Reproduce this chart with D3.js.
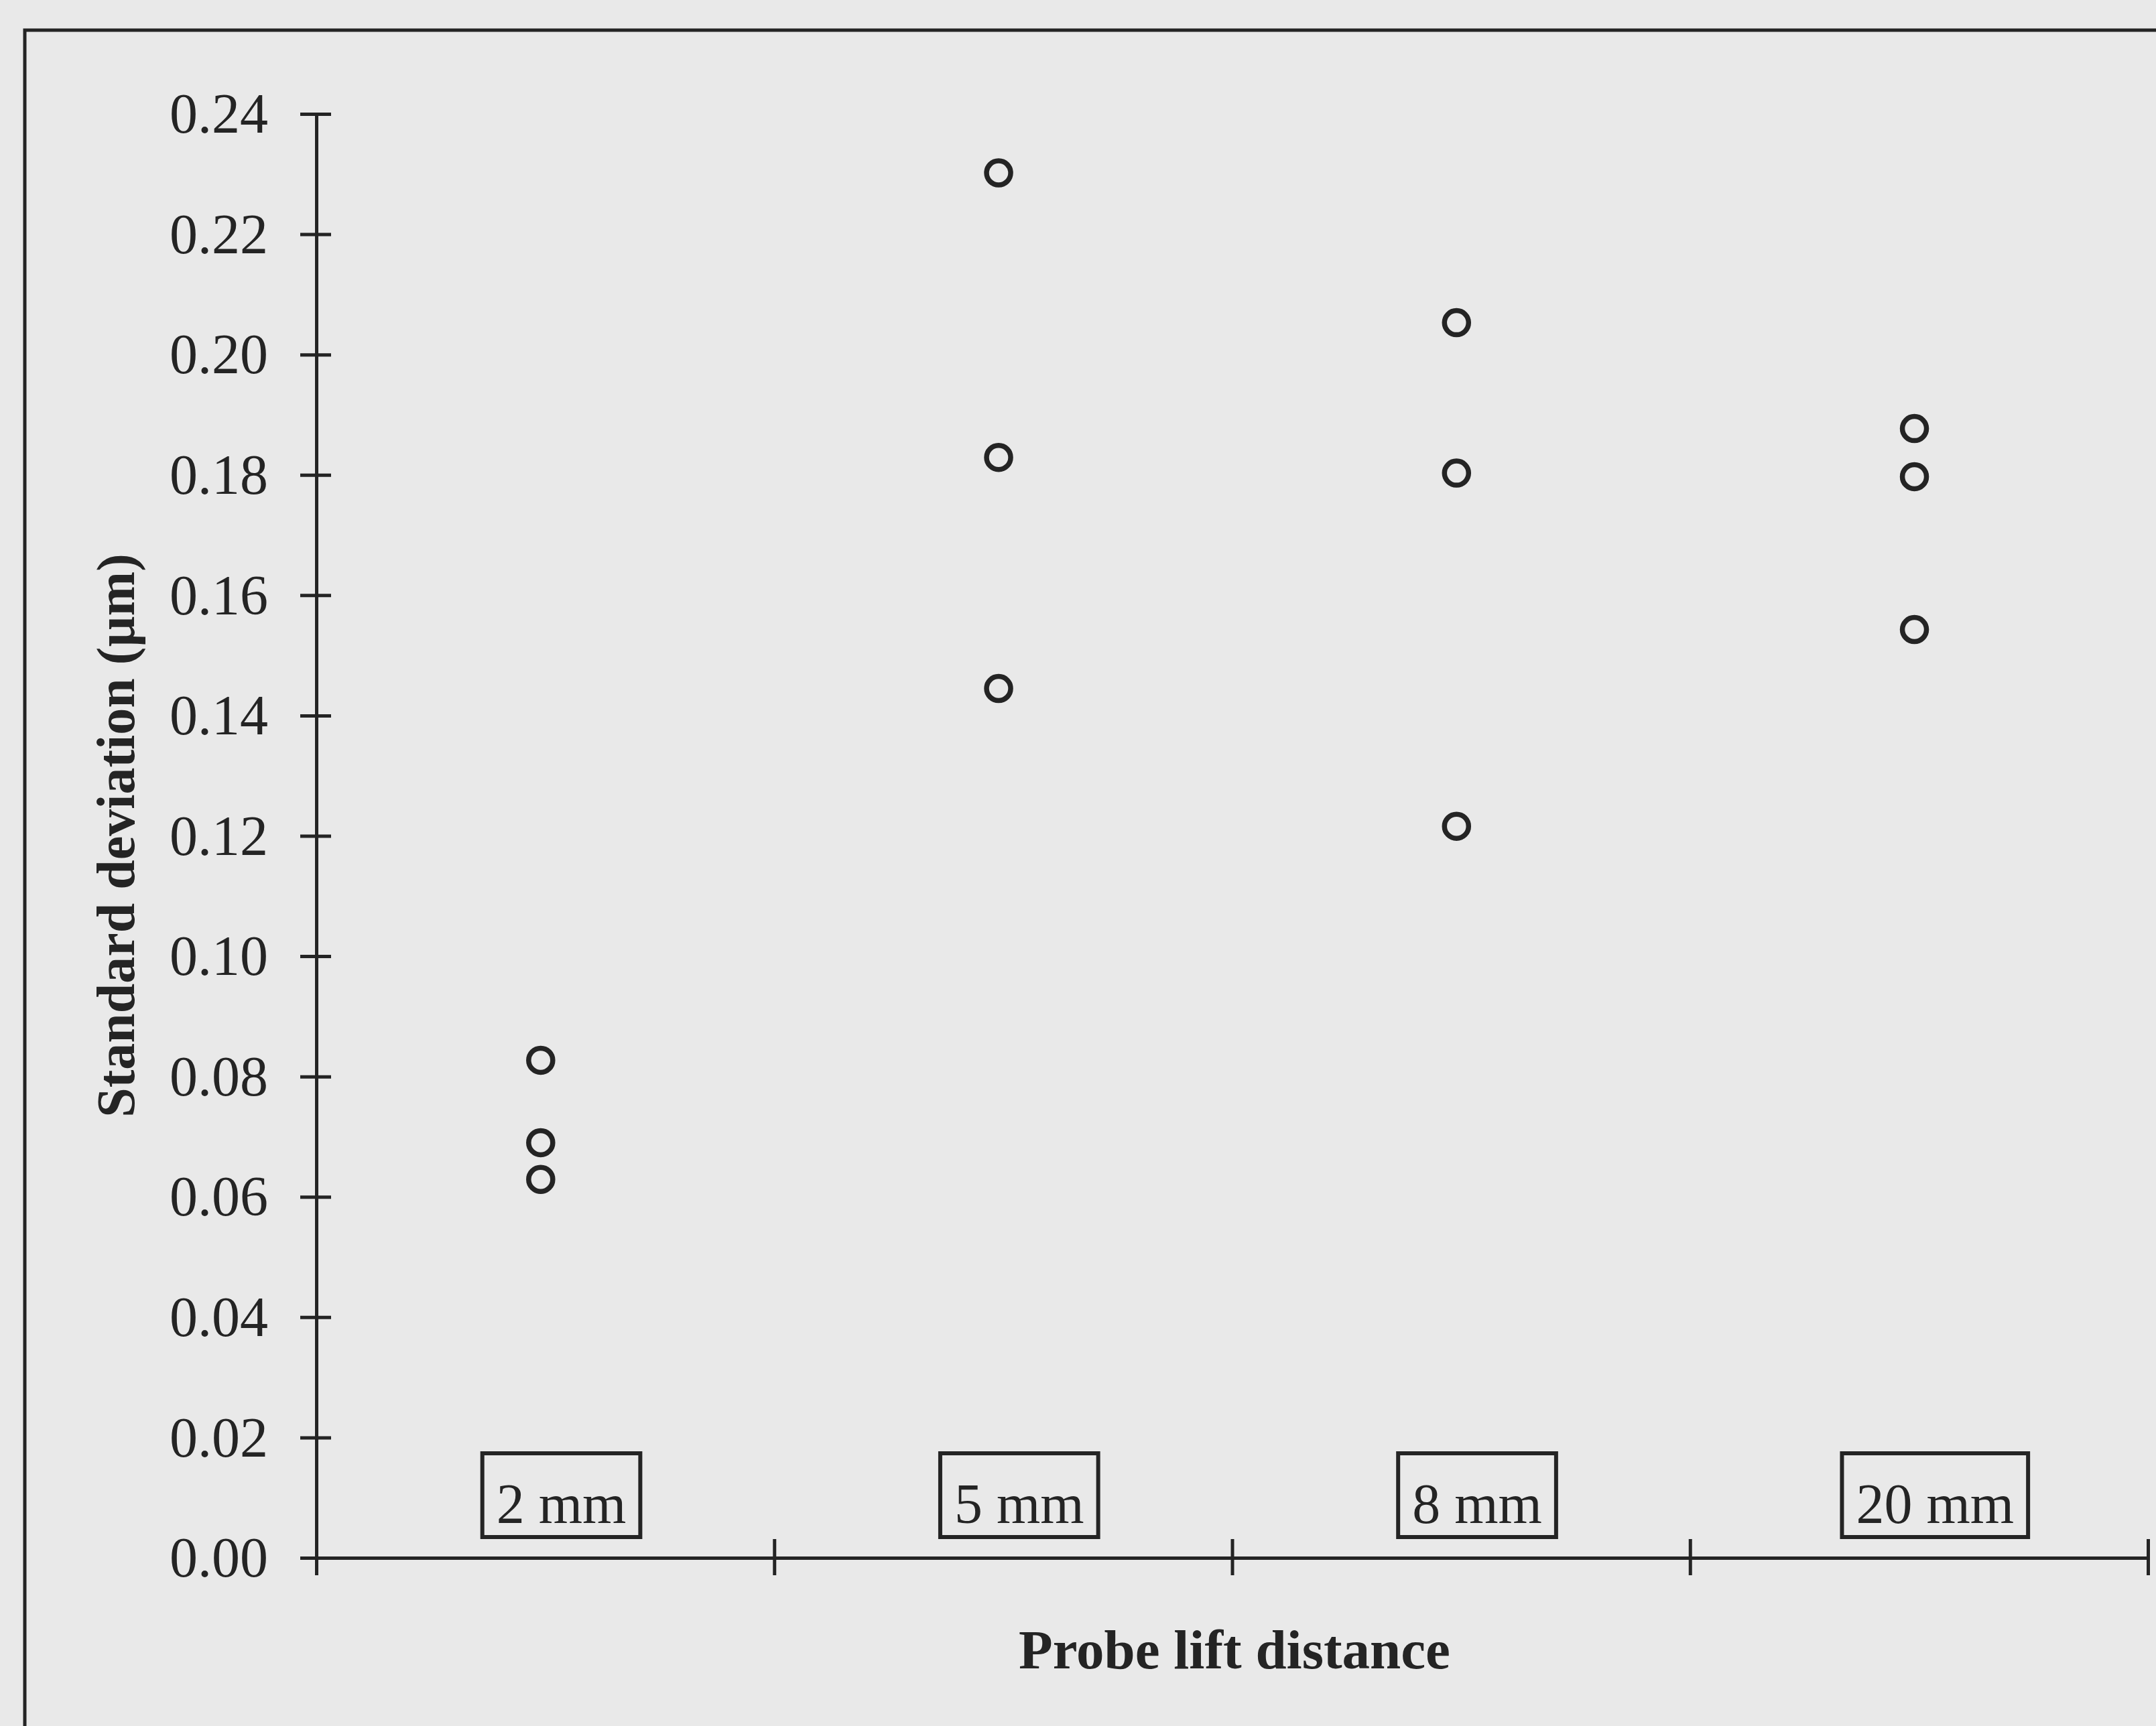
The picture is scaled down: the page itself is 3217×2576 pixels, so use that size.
<!DOCTYPE html>
<html>
<head>
<meta charset="utf-8">
<script src="https://cdn.jsdelivr.net/npm/d3@7"></script>
<style>
  html, body { margin: 0; padding: 0; background: #e9e9e9; }
  svg { display: block; }
</style>
</head>
<body>
<script>
// Probe lift distance groups and the three repeat measurements in each
const categories = ["2 mm", "5 mm", "8 mm", "20 mm"];
const run1 = [0.0827, 0.2302, 0.2053, 0.1877];
const run2 = [0.0690, 0.1829, 0.1803, 0.1797];
const run3 = [0.0629, 0.1445, 0.1216, 0.1543];
const yTicks = [0, 0.02, 0.04, 0.06, 0.08, 0.10, 0.12, 0.14, 0.16, 0.18, 0.20, 0.22, 0.24];

const W = 3217, H = 2576;
const ink = "#242424";
const serif = "'Liberation Serif', 'Times New Roman', serif";

const svg = d3.select("body").append("svg")
  .attr("width", W).attr("height", H);

svg.append("rect").attr("width", W).attr("height", H).attr("fill", "#e9e9e9");

// outer frame (only top and left edges fall within the page)
svg.append("rect")
  .attr("x", 37).attr("y", 45)
  .attr("width", W + 200).attr("height", H + 200)
  .attr("fill", "none").attr("stroke", ink).attr("stroke-width", 5);

const plot = { left: 472, right: 3205, top: 170, bottom: 2325 };

// x position along the category axis: group i spans [i, i+1]
const x = d3.scaleLinear().domain([0, categories.length]).range([plot.left, plot.right]);
const y = d3.scaleLinear().domain([0, 0.24]).range([plot.bottom, plot.top]);

// y axis with ticks crossing the axis line
const yAxis = svg.append("g")
  .attr("transform", `translate(${plot.left},0)`)
  .call(d3.axisLeft(y).tickValues(yTicks).tickFormat(d3.format(".2f"))
    .tickSizeInner(24).tickSizeOuter(0).tickPadding(48));
yAxis.select(".domain").attr("stroke", ink).attr("stroke-width", 5);
yAxis.selectAll(".tick line").attr("stroke", ink).attr("stroke-width", 5).attr("x2", 22).attr("x1", -24);
yAxis.selectAll(".tick text")
  .attr("fill", ink).attr("font-family", serif).attr("font-size", 84)
  .attr("dy", "0.33em");

// x axis: plain line with crossing ticks at group boundaries
const xAxis = svg.append("g")
  .attr("transform", `translate(0,${plot.bottom})`)
  .call(d3.axisBottom(x).tickValues(d3.range(0, categories.length + 1))
    .tickFormat("").tickSizeInner(26).tickSizeOuter(0));
xAxis.select(".domain").attr("stroke", ink).attr("stroke-width", 5);
xAxis.selectAll(".tick line").attr("stroke", ink).attr("stroke-width", 5).attr("y1", -28);

// boxed group labels just above the x axis
const labelG = svg.append("g");
categories.forEach((c, i) => {
  const g = labelG.append("g");
  const t = g.append("text")
    .attr("x", x(i + 0.535)).attr("y", y(0) - 52)
    .attr("text-anchor", "middle")
    .attr("font-family", serif).attr("font-size", 84)
    .attr("fill", ink).text(c);
  const bb = t.node().getBBox();
  g.insert("rect", "text")
    .attr("x", bb.x - 21).attr("y", y(0) - 156)
    .attr("width", bb.width + 42).attr("height", 125)
    .attr("fill", "none").attr("stroke", ink).attr("stroke-width", 6);
});

// measured points: hollow circles
const points = [];
[run1, run2, run3].forEach(series => {
  series.forEach((v, i) => points.push({ i, v }));
});
svg.append("g").selectAll("circle").data(points).join("circle")
  .attr("cx", d => x(d.i + 0.49))
  .attr("cy", d => y(d.v))
  .attr("r", 18)
  .attr("fill", "none")
  .attr("stroke", ink)
  .attr("stroke-width", 7.5);

// axis titles
svg.append("text")
  .attr("x", 1842).attr("y", 2490)
  .attr("text-anchor", "middle")
  .attr("font-family", serif).attr("font-weight", "bold").attr("font-size", 83)
  .attr("fill", ink).text("Probe lift distance");

svg.append("text")
  .attr("transform", "translate(200,1247) rotate(-90)")
  .attr("text-anchor", "middle")
  .attr("font-family", serif).attr("font-weight", "bold").attr("font-size", 80)
  .attr("fill", ink).text("Standard deviation (µm)");
</script>
</body>
</html>
